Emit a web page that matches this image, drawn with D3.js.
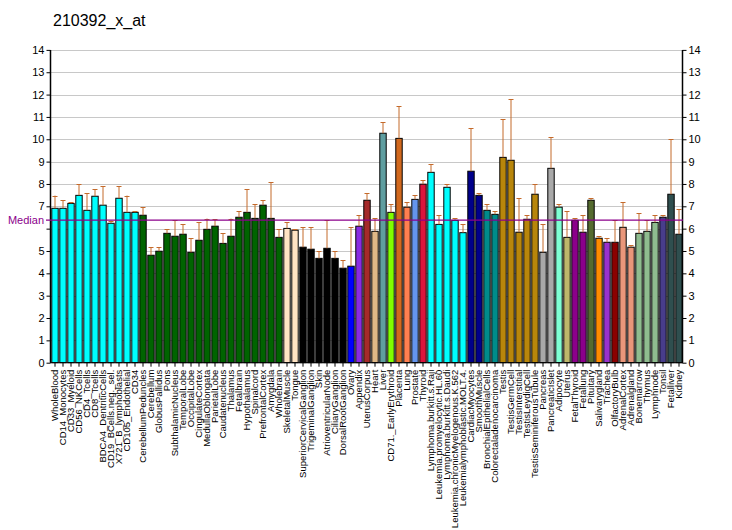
<!DOCTYPE html>
<html>
<head>
<meta charset="utf-8">
<script src="https://cdn.jsdelivr.net/npm/d3@7"></script>
<style>
  body { margin: 0; background: #fff; }
  svg { font-family: "Liberation Sans", Arial, sans-serif; }
</style>
</head>
<body>
<svg id="chart" width="732" height="530"></svg>
<script>
// tissue names, as printed under the bars
const tissues = ["WholeBlood", "CD14_Monocytes", "CD33_Myeloid", "CD56_NKCells", "CD4_Tcells", "CD8_Tcells",
  "BDCA4_DentriticCells", "CD19_BCells.neg._sel.", "X721_B_lymphoblasts", "CD105_Endothelial", "CD34",
  "CerebellumPeduncles", "Cerebellum", "GlobusPallidus", "Pons", "SubthalamicNucleus", "TemporalLobe",
  "OccipitalLobe", "CingulateCortex", "MedullaOblongata", "ParietalLobe", "Caudatenucleus", "Thalamus",
  "Fetalbrain", "Hypothalamus", "Spinalcord", "PrefrontalCortex", "Amygdala", "Wholebrain",
  "SkeletalMuscle", "Tongue", "SuperiorCervicalGanglion", "TrigeminalGanglion", "Skin",
  "AtrioventricularNode", "CiliaryGanglion", "DorsalRootGanglion", "Ovary", "Appendix", "UterusCorpus",
  "Heart", "Liver", "CD71._EarlyErythroid", "Placenta", "Lung", "Prostate", "Thyroid",
  "Lymphoma.burkitt.s.Raji", "Leukemia.promyelocytic.HL.60", "Lymphoma.burkitt.s.Daudi",
  "Leukemia.chronicMyelogenous.K.562", "Leukemialymphoblastic.MOLT.4.", "CardiacMyocytes", "SmoothMuscle",
  "BronchialEpithelialCells", "Colorectaladenocarcinoma", "Testis", "TestisGermCell", "TestisInterstitial",
  "TestisLeydigCell", "TestisSeminiferousTubule", "Pancreas", "PancreaticIslet", "Adipocyte", "Uterus",
  "FetalThyroid", "Fetallung", "Pituitary", "Salivarygland", "Trachea", "OlfactoryBulb", "AdrenalCortex",
  "Adrenalgland", "Bonemarrow", "Thymus", "Lymphnode", "Tonsil", "Fetalliver", "Kidney"];

// expression value (bar height)
const values = [6.91, 6.91, 7.13, 7.49, 6.82, 7.45, 7.05, 6.24, 7.36, 6.73, 6.73,
  6.60, 4.81, 4.99, 5.79, 5.66, 5.75, 4.94, 5.48, 5.97, 6.11, 5.34, 5.66,
  6.51, 6.73, 6.46, 7.05, 6.46, 5.61,
  6.01, 5.93, 5.17, 5.08, 4.67, 5.12, 4.67, 4.23, 4.32, 6.11, 7.27,
  5.88, 10.27, 6.73, 10.04, 6.96, 7.31, 7.99, 8.52, 6.19, 7.85, 6.37, 5.82,
  8.57, 7.49, 6.82, 6.64, 9.19, 9.06, 5.84, 6.42, 7.54, 4.94, 8.70,
  6.96, 5.61, 6.37, 5.84, 7.27, 5.57, 5.39, 5.39, 6.06, 5.17, 5.79, 5.88, 6.28, 6.51, 7.54, 5.75];

// top of the error whisker
const errTops = [7.48, 7.27, 7.18, 7.98, 7.58, 7.76, 7.90, 6.36, 7.90, 7.48, 6.77,
  6.96, 5.17, 5.17, 5.97, 6.37, 6.19, 5.57, 6.28, 6.45, 6.42, 5.79, 6.45,
  6.78, 7.76, 7.09, 7.27, 8.07, 5.97,
  6.28, 5.97, 6.06, 6.06, 4.99, 6.37, 4.99, 4.58, 6.06, 6.60, 7.58,
  6.46, 10.76, 7.09, 11.48, 7.18, 7.49, 8.17, 8.88, 6.60, 7.99, 6.46, 6.19,
  10.49, 7.58, 7.09, 6.78, 10.90, 11.79, 7.36, 6.60, 7.99, 6.19, 10.09,
  7.09, 6.78, 6.46, 6.60, 7.36, 5.66, 5.57, 6.37, 7.18, 5.26, 6.69, 6.37, 6.60, 6.60, 10.0, 6.87];

// tissue group of each bar
const groups = [
  "blood", "blood", "blood", "blood", "blood", "blood", "blood", "blood", "blood", "blood", "blood",
  "brain", "brain", "brain", "brain", "brain", "brain", "brain", "brain", "brain", "brain", "brain", "brain",
  "brain", "brain", "brain", "brain", "brain", "brain",
  "muscle", "muscle", "ganglion", "ganglion", "ganglion", "ganglion", "ganglion", "ganglion",
  "ovary", "appendix", "uteruscorpus", "heart", "liver", "erythroid", "placenta", "lung", "prostate", "thyroid",
  "cancer", "cancer", "cancer", "cancer", "cancer", "myocyte", "myocyte", "epithelial", "epithelial",
  "testis", "testis", "testis", "testis", "testis", "pancreas", "pancreas",
  "adipocyte", "uterus", "fetal", "fetal", "pituitary", "salivary", "trachea", "olfactory",
  "adrenal", "adrenal", "immune", "immune", "immune", "tonsil", "kidney", "kidney"];

const groupColor = {
  blood: "#00FFFF", brain: "#006400", muscle: "#FFE4C4", ganglion: "#000000", ovary: "#0000FF",
  appendix: "#8A2BE2", uteruscorpus: "#A52A2A", heart: "#DEB887", liver: "#5F9EA0", erythroid: "#7FFF00",
  placenta: "#D2691E", lung: "#FF7F50", prostate: "#6495ED", thyroid: "#DC143C", cancer: "#00FFFF",
  myocyte: "#00008B", epithelial: "#008B8B", testis: "#B8860B", pancreas: "#A9A9A9", adipocyte: "#7FFFD4",
  uterus: "#BDB76B", fetal: "#8B008B", pituitary: "#556B2F", salivary: "#FF8C00", trachea: "#9932CC",
  olfactory: "#8B0000", adrenal: "#E9967A", immune: "#8FBC8F", tonsil: "#483D8B", kidney: "#2F4F4F"
};

const median = 6.38;
const yTicks = d3.range(0, 15);

const data = tissues.map((t, i) => ({ name: t, value: values[i], err: errTops[i], group: groups[i] }));

const svg = d3.select("#chart");
const plotLeft = 51, plotRight = 683, plotTop = 49.9, plotBottom = 362.7;

const x = d3.scaleBand()
  .domain(tissues)
  .range([plotLeft, plotRight])
  .paddingInner(0.2)
  .paddingOuter(0.1);

const y = d3.scaleLinear()
  .domain([0, 14])
  .range([plotBottom, plotTop]);

// grid
svg.append("g")
  .selectAll("line")
  .data(yTicks.filter(d => d > 0))
  .enter()
  .append("line")
  .attr("x1", plotLeft)
  .attr("x2", plotRight)
  .attr("y1", d => Math.round(y(d)) + 0.5)
  .attr("y2", d => Math.round(y(d)) + 0.5)
  .style("stroke", "#c8c8c8")
  .style("stroke-width", 1);

// bars
svg.append("g")
  .selectAll("rect")
  .data(data)
  .enter()
  .append("rect")
  .attr("x", d => x(d.name))
  .attr("y", d => y(d.value))
  .attr("width", x.bandwidth())
  .attr("height", d => y(0) - y(d.value))
  .style("fill", d => groupColor[d.group])
  .style("stroke", "#000")
  .style("stroke-width", 1);

// error whiskers
const errColor = "#C46A2B";
const whisk = svg.append("g");
whisk.selectAll("line.v")
  .data(data)
  .enter()
  .append("line")
  .attr("class", "v")
  .attr("x1", d => x(d.name) + x.bandwidth() / 2)
  .attr("x2", d => x(d.name) + x.bandwidth() / 2)
  .attr("y1", d => y(d.value))
  .attr("y2", d => y(d.err))
  .style("stroke", errColor)
  .style("stroke-width", 1);
whisk.selectAll("line.c")
  .data(data)
  .enter()
  .append("line")
  .attr("class", "c")
  .attr("x1", d => x(d.name) + x.bandwidth() / 2 - 2.5)
  .attr("x2", d => x(d.name) + x.bandwidth() / 2 + 2.5)
  .attr("y1", d => Math.round(y(d.err)) + 0.5)
  .attr("y2", d => Math.round(y(d.err)) + 0.5)
  .style("stroke", errColor)
  .style("stroke-width", 1);

// axes (left "6" label is hidden by the Median label in the original)
const yLeft = d3.axisLeft(y).tickValues(yTicks).tickSize(4).tickFormat(d => d === 6 ? "" : d);
const yRight = d3.axisRight(y).tickValues(yTicks).tickSize(4).tickFormat(d3.format("d"));

const gl = svg.append("g").attr("transform", "translate(" + (plotLeft - 0.5) + ",0)").call(yLeft);
const gr = svg.append("g").attr("transform", "translate(" + (plotRight - 0.5) + ",0)").call(yRight);
[gl, gr].forEach(g => {
  g.select(".domain").attr("d", "M0," + plotTop + "V" + plotBottom).style("stroke-width", 1.5);
  g.selectAll("text").style("font-size", "11px").style("font-family", "'Liberation Sans', Arial, sans-serif");
});
gl.selectAll(".tick text").attr("x", -6);
gr.selectAll(".tick text").attr("x", 6);

const xAxis = d3.axisBottom(x).tickSize(4).tickSizeOuter(0);
const gx = svg.append("g").attr("transform", "translate(0," + plotBottom + ")").call(xAxis);
gx.select(".domain").attr("d", "M" + (plotLeft - 1) + ",0H" + plotRight);
gx.selectAll(".tick text")
  .attr("transform", "rotate(-90)")
  .attr("text-anchor", "end")
  .attr("x", -7)
  .attr("y", 0)
  .attr("dy", "0.35em")
  .style("font-size", "9.5px")
  .style("font-family", "'Liberation Sans', Arial, sans-serif");

// median
svg.append("line")
  .attr("x1", 46)
  .attr("x2", plotRight)
  .attr("y1", y(median))
  .attr("y2", y(median))
  .style("stroke", "#8B008B")
  .style("stroke-width", 1.2);
svg.append("text")
  .attr("x", 44)
  .attr("y", y(median) + 4)
  .attr("text-anchor", "end")
  .style("font-size", "11px")
  .style("fill", "#8B008B")
  .text("Median");

// title
svg.append("text")
  .attr("x", 53)
  .attr("y", 26)
  .style("font-size", "16px")
  .style("font-weight", "normal")
  .text("210392_x_at");
</script>
</body>
</html>
